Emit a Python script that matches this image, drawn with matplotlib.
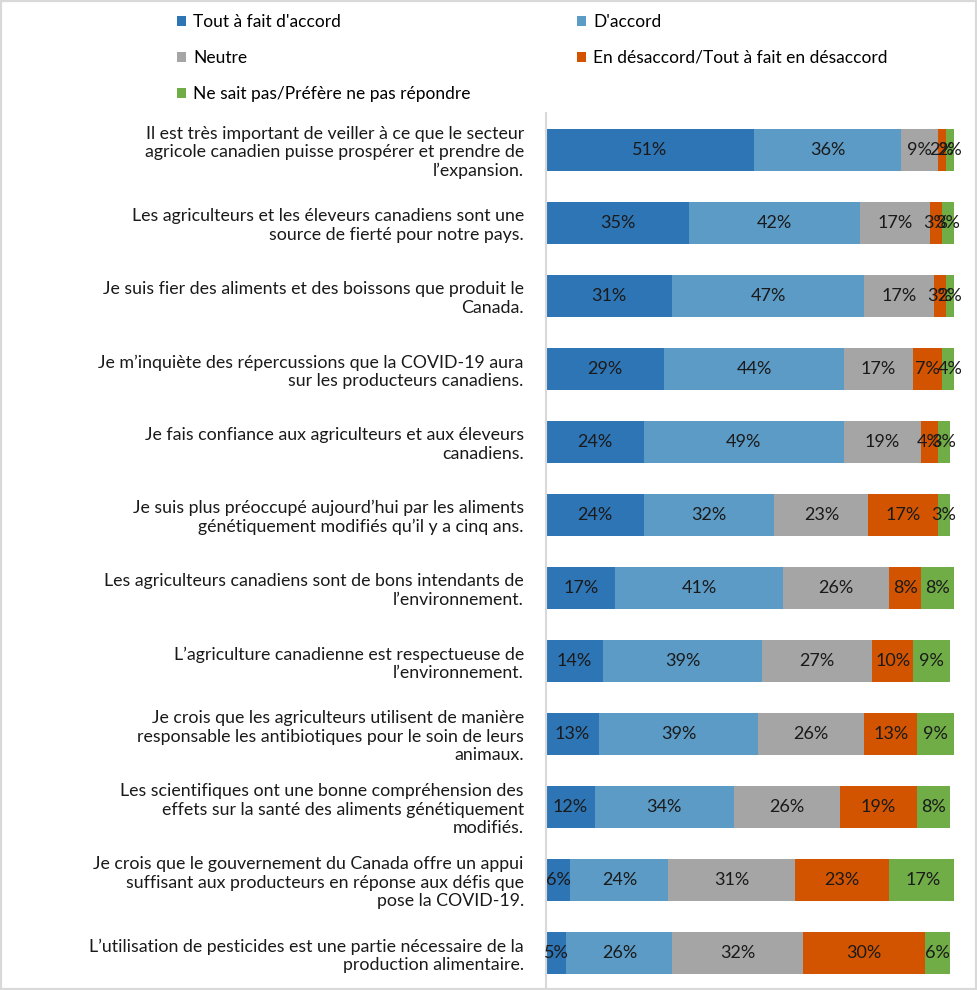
import matplotlib

matplotlib.use("Agg")
import matplotlib.pyplot as plt
import numpy as np
from matplotlib.patches import Rectangle

plt.rcParams["font.family"] = ["Lato", "DejaVu Sans"]

categories = [
    "Il est très important de veiller à ce que le secteur\nagricole canadien puisse prospérer et prendre de\nl’expansion.",
    "Les agriculteurs et les éleveurs canadiens sont une\nsource de fierté pour notre pays.",
    "Je suis fier des aliments et des boissons que produit le\nCanada.",
    "Je m’inquiète des répercussions que la COVID-19 aura\nsur les producteurs canadiens.",
    "Je fais confiance aux agriculteurs et aux éleveurs\ncanadiens.",
    "Je suis plus préoccupé aujourd’hui par les aliments\ngénétiquement modifiés qu’il y a cinq ans.",
    "Les agriculteurs canadiens sont de bons intendants de\nl’environnement.",
    "L’agriculture canadienne est respectueuse de\nl’environnement.",
    "Je crois que les agriculteurs utilisent de manière\nresponsable les antibiotiques pour le soin de leurs\nanimaux.",
    "Les scientifiques ont une bonne compréhension des\neffets sur la santé des aliments génétiquement\nmodifiés.",
    "Je crois que le gouvernement du Canada offre un appui\nsuffisant aux producteurs en réponse aux défis que\npose la COVID-19.",
    "L’utilisation de pesticides est une partie nécessaire de la\nproduction alimentaire.",
]

series_names = [
    "Tout à fait d'accord",
    "D'accord",
    "Neutre",
    "En désaccord/Tout à fait en désaccord",
    "Ne sait pas/Préfère ne pas répondre",
]

tout_accord = [51, 35, 31, 29, 24, 24, 17, 14, 13, 12, 6, 5]
accord = [36, 42, 47, 44, 49, 32, 41, 39, 39, 34, 24, 26]
neutre = [9, 17, 17, 17, 19, 23, 26, 27, 26, 26, 31, 32]
desaccord = [2, 3, 3, 7, 4, 17, 8, 10, 13, 19, 23, 30]
nsp = [2, 3, 2, 4, 3, 3, 8, 9, 9, 8, 17, 6]

colors = ["#2E75B6", "#5B9BC6", "#A5A5A5", "#D35400", "#70AD47"]

fig = plt.figure(figsize=(9.77, 9.9), dpi=100)
ax = fig.add_axes([546 / 977, 0.0005, 408 / 977, 0.885])

y = np.arange(len(categories))
left = np.zeros(len(categories))
handles = []
for name, vals, col in zip(series_names, [tout_accord, accord, neutre, desaccord, nsp], colors):
    vals = np.array(vals, dtype=float)
    bars = ax.barh(y, vals / 100, left=left / 100, height=0.575, color=col, label=name)
    handles.append(bars)
    for yi, (l, v) in enumerate(zip(left, vals)):
        ax.text((l + v / 2) / 100, yi, f"{int(v)}%", ha="center", va="center",
                fontsize=13, color="#1a1a1a")
    left += vals

ax.set_xlim(0, 1)
ax.set_ylim(len(categories) - 0.5, -0.5)
ax.set_yticks(y)
ax.set_yticklabels(categories, fontsize=12.8, linespacing=1.18, color="#1a1a1a")
ax.tick_params(axis="y", length=0, pad=16)
ax.set_xticks([])
for s in ["top", "right", "bottom"]:
    ax.spines[s].set_visible(False)
ax.spines["left"].set_color("#D9D9D9")
ax.spines["left"].set_linewidth(1.5)

# row-major order like the reference legend
order = [0, 2, 4, 1, 3]
fig.legend(handles=[handles[i] for i in order], loc="upper left",
           bbox_to_anchor=(170 / 977, 1 - 7 / 990),
           ncol=2, frameon=False, fontsize=12.5, handlelength=0.55, handleheight=0.55,
           handletextpad=0.4, labelspacing=1.15, columnspacing=6.1, borderaxespad=0)

fig.patches.append(Rectangle((0, 0), 1, 1, transform=fig.transFigure, fill=False,
                             edgecolor="#D9D9D9", linewidth=3))

fig.savefig("out.png", dpi=100)
